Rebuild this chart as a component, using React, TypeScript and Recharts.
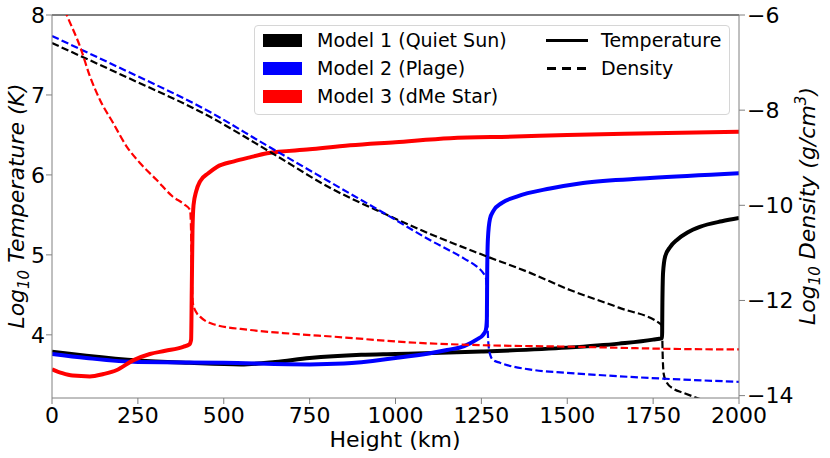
import { Label, Line, LineChart, ReferenceLine, XAxis, YAxis } from "recharts";

// heights in km, temperature as log10(K), density as log10(g/cm^3)
const quietTempH = [0, 100, 250, 400, 550, 650, 750, 900, 1000, 1250, 1500, 1650, 1750, 1776, 1777, 1779, 1785, 1800, 1820, 1850, 1886, 1950, 2000];
const quietTemp = [3.79, 3.74, 3.68, 3.65, 3.63, 3.66, 3.71, 3.75, 3.76, 3.79, 3.84, 3.89, 3.94, 3.96, 4.4, 4.78, 4.98, 5.1, 5.19, 5.28, 5.35, 5.42, 5.46];

const plageTempH = [0, 100, 250, 500, 750, 850, 1000, 1100, 1150, 1200, 1236, 1255, 1263, 1266, 1267, 1269, 1275, 1285, 1310, 1353, 1450, 1546, 1741, 2000];
const plageTemp = [3.76, 3.71, 3.66, 3.65, 3.63, 3.64, 3.71, 3.77, 3.81, 3.86, 3.94, 4.0, 4.06, 4.2, 4.8, 5.2, 5.45, 5.55, 5.65, 5.73, 5.83, 5.9, 5.96, 6.02];

const dmeTempH = [0, 30, 60, 110, 150, 189, 236, 285, 330, 382, 400, 405, 407, 409, 412, 420, 431, 455, 480, 530, 576, 626, 750, 868, 1000, 1159, 1350, 1500, 1750, 2000];
const dmeTemp = [3.57, 3.52, 3.49, 3.48, 3.51, 3.56, 3.68, 3.76, 3.8, 3.85, 3.88, 3.94, 4.6, 5.3, 5.62, 5.8, 5.92, 6.02, 6.1, 6.17, 6.22, 6.27, 6.32, 6.37, 6.41, 6.46, 6.48, 6.5, 6.52, 6.54];

const quietDensH = [0, 200, 460, 640, 809, 975, 1100, 1246, 1392, 1508, 1650, 1774, 1776, 1778, 1781, 1790, 1810, 1838, 1878, 1940, 2000];
const quietDens = [-6.59, -7.25, -8.14, -8.9, -9.63, -10.2, -10.6, -11.02, -11.42, -11.78, -12.15, -12.51, -12.6, -13.2, -13.55, -13.73, -13.86, -13.94, -14.05, -14.2, -14.3];

const plageDensH = [0, 200, 460, 620, 809, 975, 1100, 1200, 1237, 1255, 1263, 1266, 1268, 1271, 1276, 1284, 1304, 1400, 1500, 1742, 2000];
const plageDens = [-6.44, -7.12, -8.04, -8.72, -9.51, -10.2, -10.73, -11.12, -11.29, -11.42, -11.52, -11.8, -12.5, -12.95, -13.15, -13.25, -13.31, -13.46, -13.52, -13.63, -13.71];

const dmeDensH = [0, 47, 82, 111, 140, 178, 218, 256, 305, 352, 385, 402, 405, 407, 410, 420, 431, 470, 576, 700, 818, 1063, 1250, 1500, 1828, 2000];
const dmeDens = [-5.27, -6.07, -6.67, -7.3, -7.79, -8.27, -8.77, -9.11, -9.47, -9.82, -9.98, -10.1, -10.6, -11.5, -12.05, -12.25, -12.34, -12.5, -12.62, -12.7, -12.76, -12.89, -12.94, -12.97, -13.02, -13.03];

const heightTicks = [0, 250, 500, 750, 1000, 1250, 1500, 1750, 2000];
const tempTicks = [4, 5, 6, 7, 8];
const densTicks = [-14, -12, -10, -8, -6];

const modelNames = ["Model 1 (Quiet Sun)", "Model 2 (Plage)", "Model 3 (dMe Star)"];
const modelColors = ["#000000", "#0000ff", "#ff0000"];

const FONT = "'DejaVu Sans', sans-serif";
const SPINE = "#808080";

const pts = (h: number[], v: number[]) => h.map((x, i) => ({ h: x, v: v[i] }));

const tempSeries = [
  pts(quietTempH, quietTemp),
  pts(plageTempH, plageTemp),
  pts(dmeTempH, dmeTemp),
];
const densSeries = [
  pts(quietDensH, quietDens),
  pts(plageDensH, plageDens),
  pts(dmeDensH, dmeDens),
];

const minus = (v: number) => (v < 0 ? `\u2212${Math.abs(v)}` : `${v}`);

const tickStyle = { fontSize: 22, fill: "#000", fontFamily: FONT };

function ChartLegend() {
  const rowTop = [8, 36, 64];
  return (
    <div
      style={{
        position: "absolute",
        left: 254,
        top: 25,
        width: 476,
        height: 90,
        boxSizing: "border-box",
        border: "1px solid #d6d6d6",
        borderRadius: 4,
        background: "rgba(255,255,255,0.8)",
        fontFamily: FONT,
        fontSize: 19,
        color: "#000",
      }}
    >
      {modelNames.map((name, i) => (
        <div key={name}>
          <div
            style={{
              position: "absolute",
              left: 8,
              top: rowTop[i],
              width: 39,
              height: 13,
              background: modelColors[i],
            }}
          />
          <div style={{ position: "absolute", left: 62, top: rowTop[i] - 5, lineHeight: "22px", whiteSpace: "nowrap" }}>
            {name}
          </div>
        </div>
      ))}
      <svg style={{ position: "absolute", left: 290, top: rowTop[0] }} width={44} height={13}>
        <line x1={1} y1={6.5} x2={43} y2={6.5} stroke="#000" strokeWidth={3} />
      </svg>
      <svg style={{ position: "absolute", left: 290, top: rowTop[1] }} width={44} height={13}>
        <line x1={2} y1={6.5} x2={43} y2={6.5} stroke="#000" strokeWidth={3} strokeDasharray="9 6" />
      </svg>
      <div style={{ position: "absolute", left: 346, top: rowTop[0] - 5, lineHeight: "22px" }}>Temperature</div>
      <div style={{ position: "absolute", left: 346, top: rowTop[1] - 5, lineHeight: "22px" }}>Density</div>
    </div>
  );
}

const tempLabel = () => (
  <text
    x={24}
    y={206}
    transform="rotate(-90 24 206)"
    textAnchor="middle"
    fontSize={22}
    fontStyle="italic"
    fontFamily={FONT}
    fill="#000"
  >
    Log<tspan fontSize={15} dy={5}>10</tspan>
    <tspan dy={-5}> Temperature (K)</tspan>
  </text>
);

const densLabel = () => (
  <text
    x={815}
    y={206}
    transform="rotate(-90 815 206)"
    textAnchor="middle"
    fontSize={22}
    fontStyle="italic"
    fontFamily={FONT}
    fill="#000"
  >
    Log<tspan fontSize={15} dy={5}>10</tspan>
    <tspan dy={-5}> Density (g/cm</tspan>
    <tspan fontSize={15} dy={-9}>3</tspan>
    <tspan dy={9}>)</tspan>
  </text>
);

const heightLabel = () => (
  <text x={395} y={447} textAnchor="middle" fontSize={22} fontFamily={FONT} fill="#000">
    Height (km)
  </text>
);

export default function App() {
  return (
    <div style={{ position: "absolute", left: 0, top: 0, width: 830, height: 458, background: "#fff" }}>
      <LineChart width={830} height={458} margin={{ top: 15, right: 0, bottom: 0, left: 0 }}>
        <XAxis
          dataKey="h"
          type="number"
          domain={[0, 2000]}
          ticks={heightTicks}
          allowDataOverflow
          height={60}
          tickSize={6}
          tickMargin={3}
          tick={tickStyle}
          stroke={SPINE}
          interval={0}
        >
          <Label content={heightLabel} />
        </XAxis>
        <YAxis
          yAxisId="t"
          type="number"
          domain={[3.21, 8]}
          ticks={tempTicks}
          allowDataOverflow
          width={52}
          tickSize={6}
          tickMargin={1}
          tick={tickStyle}
          stroke={SPINE}
          interval={0}
        >
          <Label content={tempLabel} />
        </YAxis>
        <YAxis
          yAxisId="d"
          orientation="right"
          type="number"
          domain={[-14.05, -6]}
          ticks={densTicks}
          allowDataOverflow
          width={91}
          tickSize={6}
          tickMargin={2}
          tick={tickStyle}
          tickFormatter={minus}
          stroke={SPINE}
          interval={0}
        >
          <Label content={densLabel} />
        </YAxis>
        <ReferenceLine yAxisId="t" y={8} stroke="#000" strokeWidth={1} />
        {tempSeries.map((data, i) => (
          <Line
            key={`t-${i}`}
            yAxisId="t"
            data={data}
            dataKey="v"
            type="monotone"
            stroke={modelColors[i]}
            strokeWidth={4}
            dot={false}
            activeDot={false}
            isAnimationActive={false}
          />
        ))}
        {densSeries.map((data, i) => (
          <Line
            key={`d-${i}`}
            yAxisId="d"
            data={data}
            dataKey="v"
            type="monotone"
            stroke={modelColors[i]}
            strokeWidth={2.2}
            strokeDasharray="7.4 3.2"
            dot={false}
            activeDot={false}
            isAnimationActive={false}
          />
        ))}
      </LineChart>
      <ChartLegend />
    </div>
  );
}
